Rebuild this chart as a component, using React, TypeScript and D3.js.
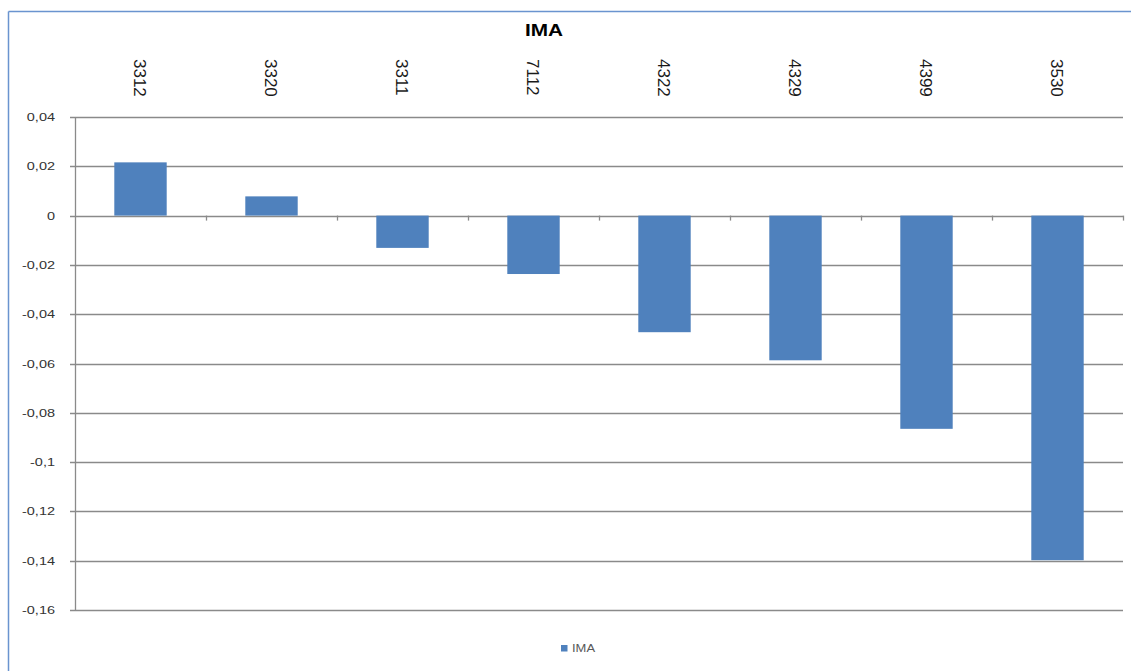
import React from "react";
import * as d3 from "d3";

const categories = ["3312", "3320", "3311", "7112", "4322", "4329", "4399", "3530"];
const imaValues = [0.0216, 0.0078, -0.0131, -0.0237, -0.0473, -0.0587, -0.0865, -0.1398];
const yTicks = [0.04, 0.02, 0, -0.02, -0.04, -0.06, -0.08, -0.1, -0.12, -0.14, -0.16];
const seriesName = "IMA";
const chartTitle = "IMA";

const W = 1131;
const H = 671;
const FONT = "'Liberation Sans', Arial, sans-serif";
const BAR = "#4f81bd";
const GRID = "#8a8a8a";

export default function App() {
  const left = 75;
  const right = 1123;
  const top = 117;
  const bottom = 610;

  const x = d3.scaleBand<string>().domain(categories).range([left, right]).paddingInner(0.6).paddingOuter(0.3);
  const xb = d3.scaleBand<string>().domain(categories).range([left, right]).padding(0);
  const y = d3.scaleLinear().domain([-0.16, 0.04]).range([bottom, top]);
  const fmt = (v: number) => String(+v.toFixed(2)).replace(".", ",");
  const y0 = y(0);

  return (
    <svg width={W} height={H} style={{ position: "absolute", left: 0, top: 0, background: "#fff" }}>
      <rect x={0} y={0} width={W} height={H} fill="#fff" />
      {/* chart border */}
      <line x1={8.5} x2={W} y1={11.5} y2={11.5} stroke="#6a94cf" strokeWidth={1.5} />
      <line x1={8.5} x2={8.5} y1={11.5} y2={H} stroke="#6a94cf" strokeWidth={1.5} />

      {/* title */}
      <text transform={`translate(544,36) scale(1.3,1)`} textAnchor="middle" fontFamily={FONT} fontWeight="bold" fontSize={16} fill="#000">
        {chartTitle}
      </text>

      {/* gridlines */}
      {yTicks.map((t) => (
        <g key={t}>
          <line x1={left - 5} x2={right} y1={Math.round(y(t)) + 0.5} y2={Math.round(y(t)) + 0.5} stroke={GRID} strokeWidth={1.3} />
          <text transform={`translate(55,${Math.round(y(t)) + 4}) scale(1.45,1)`} textAnchor="end" fontFamily={FONT} fontSize={10} fill="#333">
            {fmt(t)}
          </text>
        </g>
      ))}
      {/* y axis */}
      <line x1={left + 0.5} x2={left + 0.5} y1={top} y2={bottom + 1} stroke={GRID} strokeWidth={1.3} />

      {/* bars */}
      {categories.map((c, i) => {
        const v = imaValues[i];
        const yt = y(Math.max(0, v));
        const yb = y(Math.min(0, v));
        return <rect key={c} x={x(c)} y={yt} width={x.bandwidth()} height={yb - yt} fill={BAR} />;
      })}

      {/* zero-line category ticks */}
      {categories.map((c, i) => (
        <line key={"t" + c} x1={Math.round((xb(c) as number) + xb.bandwidth()) + 0.5} x2={Math.round((xb(c) as number) + xb.bandwidth()) + 0.5}
          y1={y0} y2={y0 + 5} stroke={GRID} strokeWidth={1.3} />
      ))}

      {/* category labels (rotated) */}
      {categories.map((c) => (
        <text key={"l" + c} transform={`translate(${(xb(c) as number) + xb.bandwidth() / 2},59) rotate(90)`} dy="0.36em"
          fontFamily={FONT} fontSize={17} fill="#1a1a1a">
          {c}
        </text>
      ))}

      {/* legend */}
      <rect x={561} y={645} width={6.5} height={6.5} fill={BAR} />
      <text transform={`translate(572,652) scale(1.3,1)`} fontFamily={FONT} fontSize={10} fill="#595959">
        {seriesName}
      </text>
    </svg>
  );
}
